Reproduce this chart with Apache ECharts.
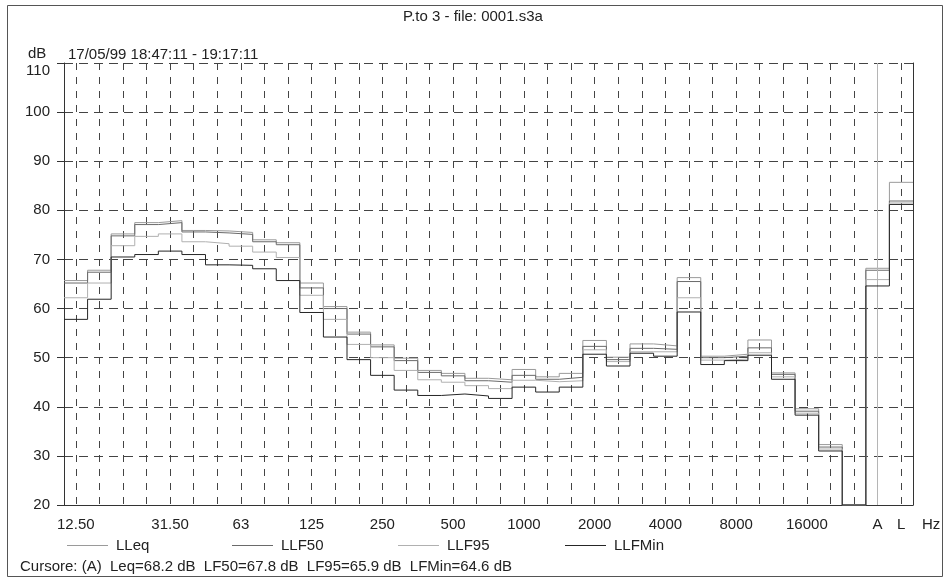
<!DOCTYPE html>
<html>
<head>
<meta charset="utf-8">
<script src="https://cdn.jsdelivr.net/npm/echarts@6/dist/echarts.min.js"></script>
<style>
html,body{margin:0;padding:0;background:#ffffff;}
#chart{width:946px;height:580px;}
</style>
</head>
<body>
<div id="chart"></div>
<script>
// ---- data ----
const chartTitle = 'P.to 3 - file: 0001.s3a';
const periodText = '17/05/99 18:47:11 - 19:17:11';
const yUnit = 'dB';
const xUnit = 'Hz';
const bands = ['12.50','16','20','25','31.50','40','50','63','80','100','125','160','200','250','315','400','500','630','800','1000','1250','1600','2000','2500','3150','4000','5000','6300','8000','10000','12500','16000','20000',' ','A','L'];
const shownLabels = ['12.50','31.50','63','125','250','500','1000','2000','4000','8000','16000','A','L'];
const yMin = 20, yMax = 110, yStep = 10;
const seriesNames = ['LLeq','LLF50','LLF95','LLFMin'];
const cursorNames = ['Leq','LF50','LF95','LFMin'];
const cursorBand = 'A';

const LLeq   = [65.7,67.8,75.2,77.5,77.9,75.9,75.8,75.5,74.0,73.4,65.2,60.4,55.2,52.6,49.9,47.4,46.8,45.8,45.5,47.6,46.1,46.8,53.5,50.1,52.8,52.4,66.3,50.3,50.7,53.6,46.9,39.6,32.3,null,68.2,85.7];
const LLF50  = [65.2,67.4,74.8,77.1,77.5,75.6,75.4,75.1,73.6,73.0,64.2,60.0,54.8,52.2,49.4,47.0,46.3,45.3,45.0,46.4,45.6,46.0,52.3,49.6,51.9,51.7,65.5,50.0,50.3,52.0,46.6,39.1,31.8,null,67.8,81.9];
const LLF95  = [62.2,65.2,72.8,74.7,75.2,73.6,73.2,72.7,71.5,70.4,62.7,57.8,52.7,50.0,47.4,45.5,45.0,44.3,43.7,45.4,45.1,45.3,51.6,49.2,51.2,51.2,62.2,49.5,49.7,51.0,46.1,38.7,31.4,null,65.9,81.5];
const LLFMin = [57.8,61.9,70.5,71.0,71.7,71.0,68.9,68.8,68.1,65.7,59.2,54.2,49.6,46.4,43.4,42.3,42.6,42.2,41.7,44.0,43.0,44.0,50.7,48.3,50.9,50.3,59.3,48.6,49.4,50.5,45.6,38.3,31.0,null,64.6,81.2];

const seriesValues = [LLeq, LLF50, LLF95, LLFMin];
const seriesColors = ['#9a9a9a','#6a6a6a','#b0b0b0','#262626'];

// ---- build ----
function stepPoints(vals){
  const pts = vals.map((v,i) => [i, v == null ? yMin : v]);
  pts.push([vals.length, pts[pts.length-1][1]]);
  return pts;
}
const cursorIdx = bands.indexOf(cursorBand);
const cursorText = 'Cursore: (' + cursorBand + ')  ' +
  cursorNames.map((n,k) => n + '=' + seriesValues[k][cursorIdx].toFixed(1) + ' dB').join('  ');

const textColor = '#222';
const fontFamily = '"Liberation Sans", Arial, sans-serif';
const fs = 15;
const legendLeft = [67, 232, 398, 565];

const series = seriesNames.map((name,k) => ({
  name: name,
  type: 'line',
  xAxisIndex: 1,
  yAxisIndex: 0,
  step: 'end',
  symbol: 'none',
  showSymbol: false,
  silent: true,
  animation: false,
  data: stepPoints(seriesValues[k]),
  itemStyle: {color: seriesColors[k]},
  lineStyle: {color: seriesColors[k], width: 1},
  z: 3 + k
}));
series[0].markLine = {
  silent: true,
  symbol: ['none','none'],
  label: {show: false},
  lineStyle: {type: 'solid', color: '#b5b5b5', width: 1},
  data: [{xAxis: cursorIdx + 0.5}],
  animation: false
};

const chart = echarts.init(document.getElementById('chart'), null, {renderer: 'canvas'});
chart.setOption({
  backgroundColor: '#ffffff',
  animation: false,
  textStyle: {fontFamily: fontFamily},
  title: [
    {text: chartTitle, left: 'center', top: 9, padding: 0,
     textStyle: {fontSize: fs, fontWeight: 'normal', color: textColor, fontFamily: fontFamily}},
    {text: periodText, left: 68, top: 47, padding: 0,
     textStyle: {fontSize: fs, fontWeight: 'normal', color: textColor, fontFamily: fontFamily}}
  ],
  legend: seriesNames.map((n,k) => ({
    data: [n], left: legendLeft[k], top: 538, padding: 0,
    icon: 'rect', itemWidth: 41, itemHeight: 1, selectedMode: false,
    textStyle: {fontSize: fs, color: textColor, fontFamily: fontFamily, padding: [0,0,0,3]}
  })),
  grid: {left: 64, right: 33, top: 63, height: 442, containLabel: false},
  xAxis: [
    {
      type: 'category', data: bands, boundaryGap: true, position: 'bottom',
      name: xUnit, nameLocation: 'end', nameGap: 9,
      nameTextStyle: {fontSize: fs, color: textColor, fontFamily: fontFamily, verticalAlign: 'top', padding: [12,0,0,0]},
      axisLine: {show: true, lineStyle: {color: '#333', width: 1}},
      axisTick: {show: false},
      axisLabel: {
        interval: (idx, val) => shownLabels.includes(val),
        fontSize: fs, color: textColor, fontFamily: fontFamily, margin: 12, hideOverlap: false
      },
      splitLine: {show: true, interval: 0, alignWithLabel: true,
                  lineStyle: {type: [7,7], color: '#444', width: 1}}
    },
    {
      type: 'value', min: 0, max: bands.length, show: false
    }
  ],
  yAxis: [
    {
      type: 'value', min: yMin, max: yMax, interval: yStep, position: 'left',
      axisLine: {show: true, lineStyle: {color: '#333', width: 1}},
      axisTick: {show: true, length: 7, lineStyle: {color: '#333'}},
      axisLabel: {
        fontSize: fs, color: textColor, fontFamily: fontFamily, margin: 14,
        formatter: v => v === yMax ? '{top|' + v + '}' : String(v),
        rich: {top: {fontSize: fs, color: textColor, fontFamily: fontFamily, padding: [16,0,0,0]}}
      },
      splitLine: {show: true, lineStyle: {type: [9,6], color: '#444', width: 1}}
    },
    {
      type: 'value', min: yMin, max: yMax, interval: yStep, position: 'right',
      axisLine: {show: true, lineStyle: {color: '#333', width: 1}},
      axisTick: {show: false}, axisLabel: {show: false}, splitLine: {show: false}
    }
  ],
  graphic: [
    {type: 'rect', left: 5, top: 3, silent: true, z: -1,
     shape: {width: 935, height: 571},
     style: {fill: 'none', stroke: '#555', lineWidth: 1}},
    {type: 'text', left: 28, top: 46, silent: true,
     style: {text: yUnit, fontSize: fs, fill: textColor, fontFamily: fontFamily}},
    {type: 'text', left: 20, top: 559, silent: true,
     style: {text: cursorText, fontSize: fs, fill: textColor, fontFamily: fontFamily}}
  ],
  series: series
});
</script>
</body>
</html>
